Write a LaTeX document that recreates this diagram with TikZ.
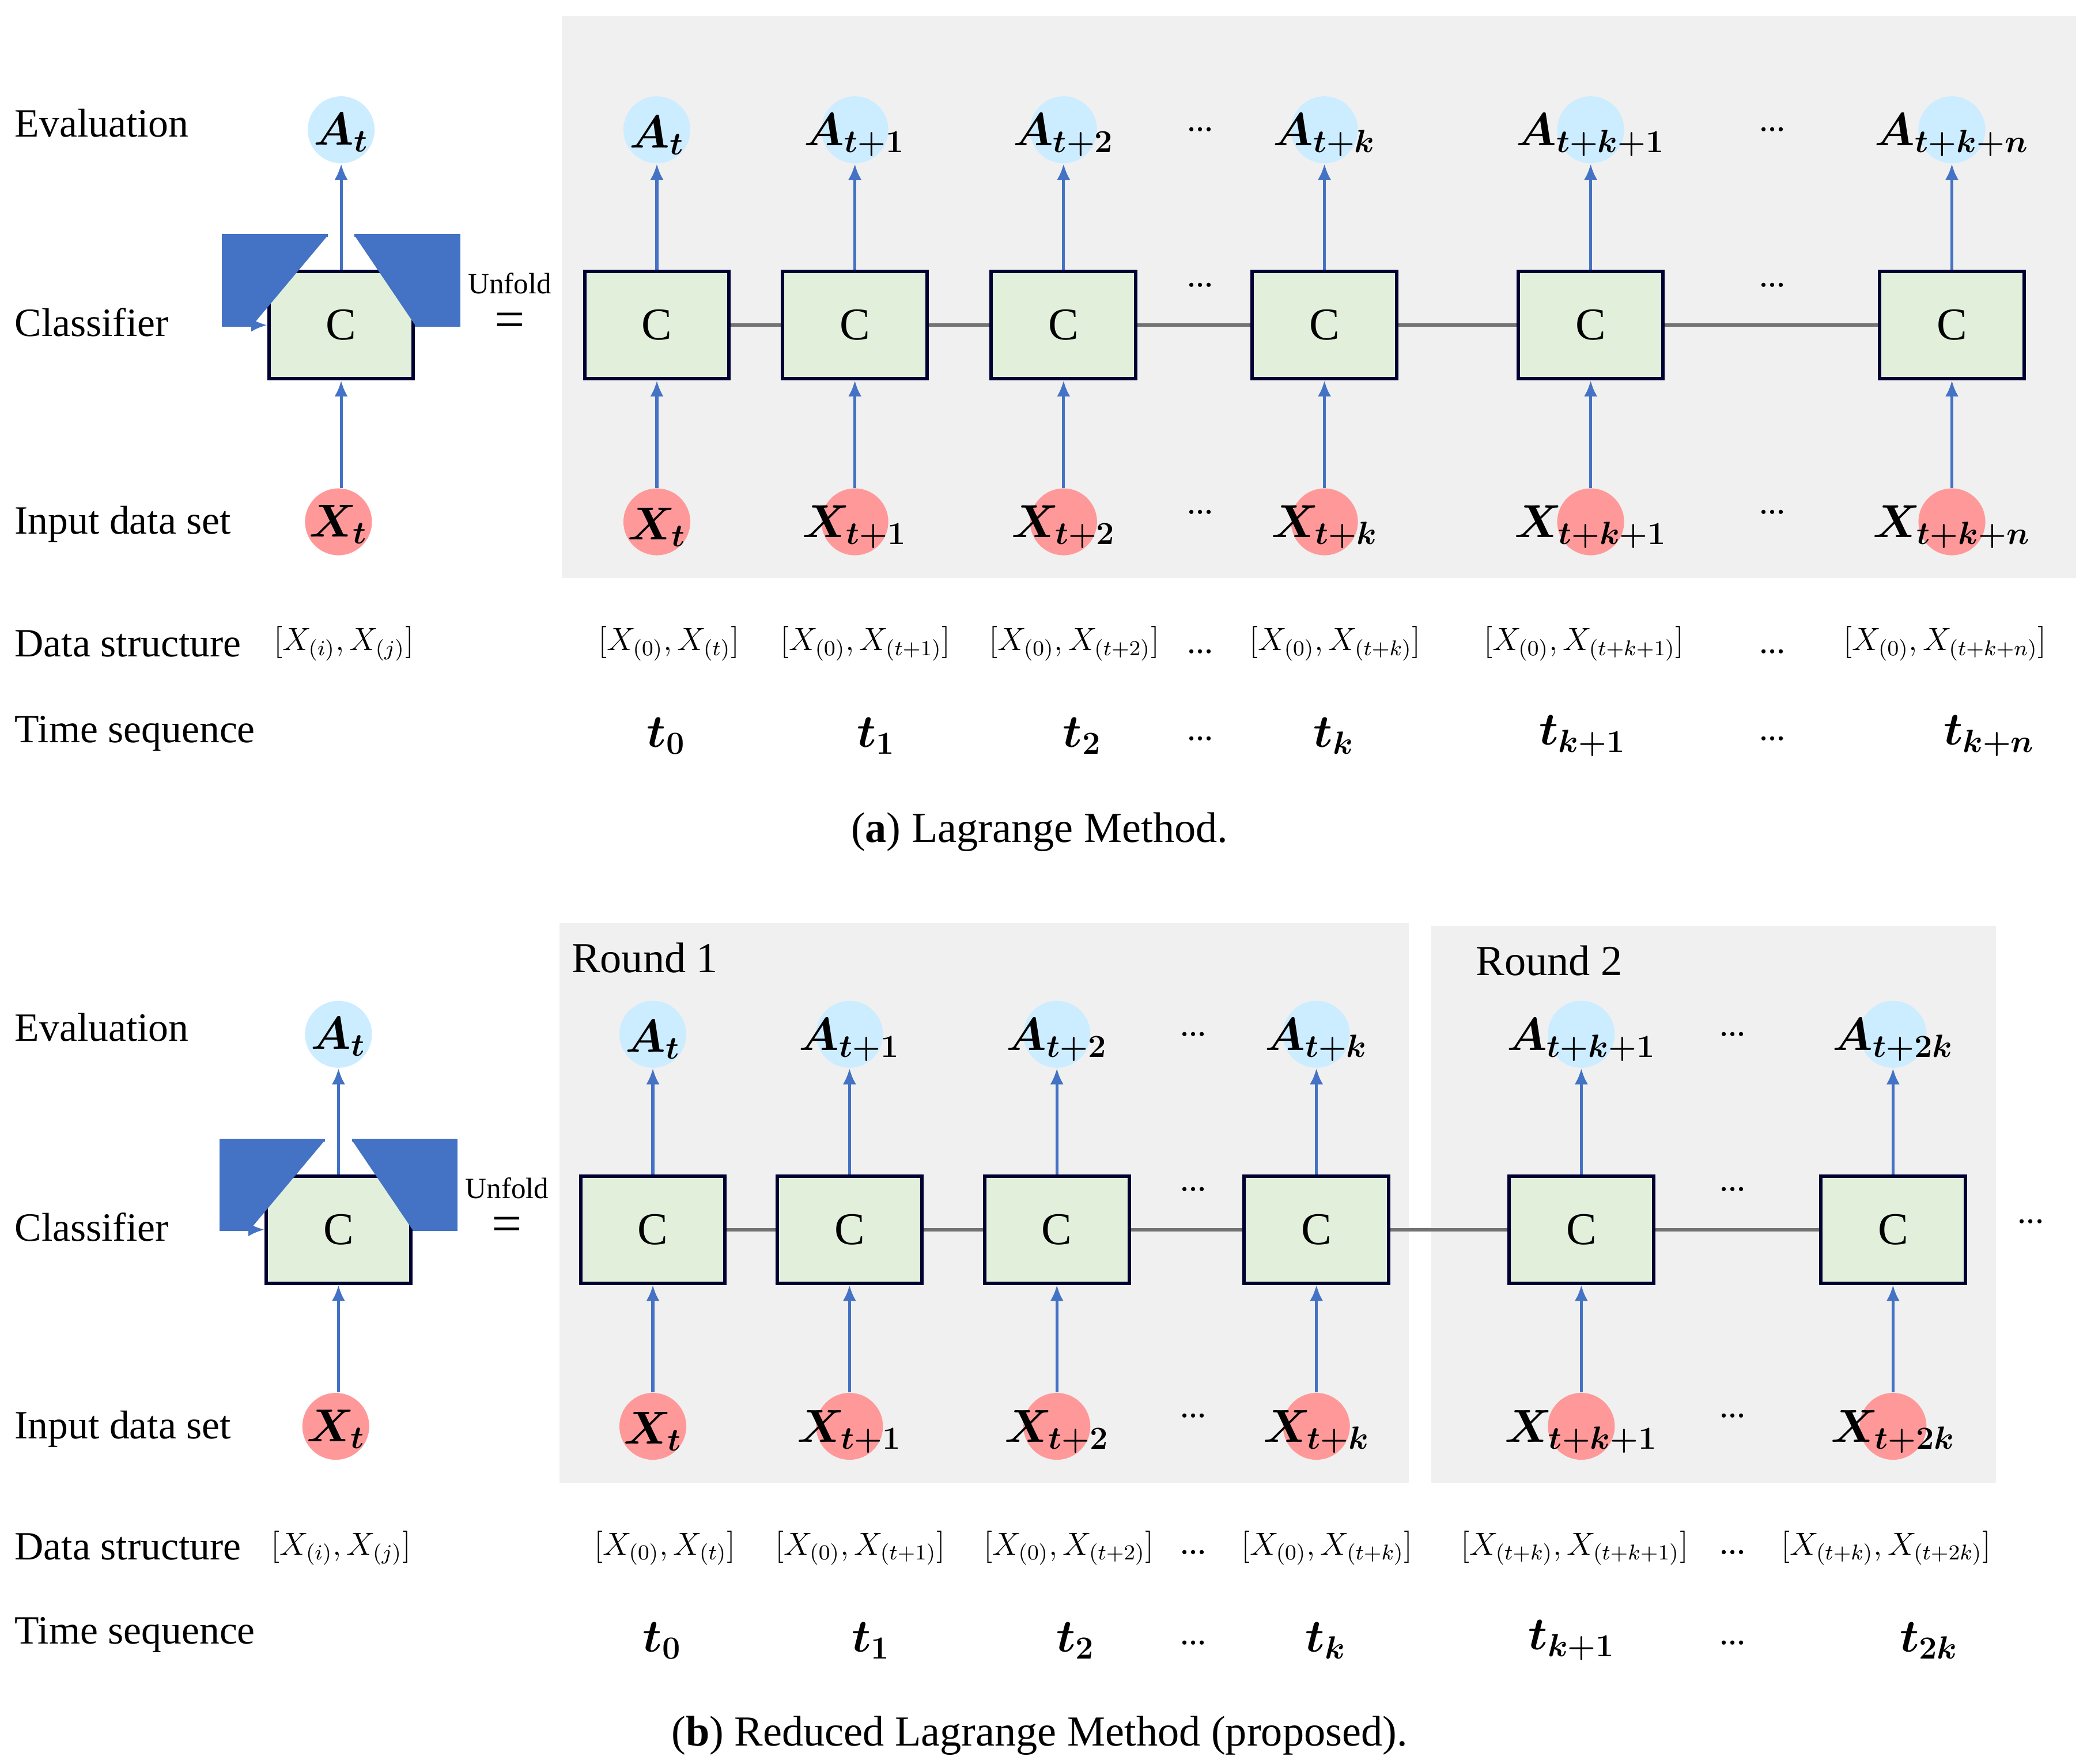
\documentclass[tikz,border=0pt]{standalone}
\usepackage{amsmath,bm}
\usepackage{fontspec}
\setmainfont{Liberation Serif}
\usetikzlibrary{shapes.geometric,arrows.meta}
\begin{document}
\begin{tikzpicture}[x=0.5pt,y=-0.5pt,
 lab/.style={anchor=west,font=\fontsize{15}{18}\selectfont},
 box/.style={draw=black!80!blue,line width=1.3pt,minimum width=54pt,minimum height=40pt,font=\fontsize{17}{19}\selectfont},
 av/.style={circle,minimum size=25pt,inner sep=0pt},
 xv/.style={circle,minimum size=25pt,inner sep=0pt},
 mt/.style={font=\fontsize{17}{21}\selectfont},
 ds/.style={font=\fontsize{12}{15}\selectfont},
 ar/.style={line width=1.1pt,-{Latex[length=6pt,width=5pt]}},
 ln/.style={draw=black!55,line width=1.3pt},
 dt/.style={font=\fontsize{13}{15}\selectfont}]
\useasboundingbox (0,0) rectangle (1560,1318);
\tikzset{box/.append style={fill={rgb,255:red,226;green,239;blue,218}},
 av/.append style={fill={rgb,255:red,204;green,236;blue,255}},
 xv/.append style={fill={rgb,255:red,255;green,153;blue,153}},
 ar/.append style={draw={rgb,255:red,68;green,114;blue,196},fill={rgb,255:red,68;green,114;blue,196}}}
% backgrounds
\fill[black!6] (420,12) rectangle (1552,432);
\fill[black!6] (418,690) rectangle (1053,1108);
\fill[black!6] (1070,692) rectangle (1492,1108);
% ---------- (a) ----------
\foreach \y/\t in {92/Evaluation,241/Classifier,392/Input data set,481/Data structure,548/Time sequence}
  \node[lab] at (4,\y) {\t};
\node[box] (ca) at (255,243) {C};
\node[av] (aa) at (255,97) {}; \node[mt] at (255,99) {$\bm{A_t}$};
\node[xv] (xa) at (253,390) {}; \node[mt] at (253,392) {$\bm{X_t}$};
\draw[ar] (xa.north -| ca) -- (ca); \draw[ar] (ca) -- (aa);
\draw[ar] (245,176) -| (167,243) -- (ca.west);
\draw[ar,-] (265,176) -| (343,243) -- (ca.east);
\node[font=\fontsize{11}{12}\selectfont] at (381,212) {Unfold};
\node[font=\fontsize{20}{22}\selectfont] at (381,243) {=};
\node[ds] at (257,481) {$[X_{(i)},X_{(j)}]$};
\foreach \i/\x/\s in {1/491/t,2/639/t+1,3/795/t+2,4/990/t+k,5/1189/t+k+1,6/1459/t+k+n}{
  \node[box] (c\i) at (\x,243) {C};
  \node[av] (a\i) at (\x,97) {}; \node[mt] at (\x,101) {$\bm{A_{\s}}$};
  \node[xv] (x\i) at (\x,390) {}; \node[mt] at (\x,394) {$\bm{X_{\s}}$};
  \draw[ar] (x\i) -- (c\i); \draw[ar] (c\i) -- (a\i);
}
\foreach \x/\d in {500/t,647/t+1,803/t+2,998/t+k,1184/t+k+1,1454/t+k+n}
  \node[ds] at (\x,481) {$[X_{(0)},X_{(\d)}]$};
\foreach \x/\d in {498/0,655/1,809/2,997/k,1183/k+1,1487/k+n}
  \node[mt] at (\x,550) {$\bm{t_{\d}}$};
\foreach \a/\b in {1/2,2/3,3/4,4/5,5/6} \draw[ln] (c\a) -- (c\b);
\foreach \x in {897,1325} \foreach \y in {97,213,383,487,552} \node[dt] at (\x,\y) {...};
\node[font=\fontsize{16}{18}\selectfont] at (777,622) {(\textbf{a}) Lagrange Method.};
% ---------- (b) ----------
\foreach \y/\t in {768/Evaluation,917/Classifier,1068/Input data set,1156/Data structure,1222/Time sequence}
  \node[lab] at (4,\y) {\t};
\node[box] (cb) at (253,919) {C};
\node[av] (ab) at (253,773) {}; \node[mt] at (253,775) {$\bm{A_t}$};
\node[xv] (xb) at (251,1066) {}; \node[mt] at (251,1068) {$\bm{X_t}$};
\draw[ar] (xb.north -| cb) -- (cb); \draw[ar] (cb) -- (ab);
\draw[ar] (243,852) -| (165,919) -- (cb.west);
\draw[ar,-] (263,852) -| (341,919) -- (cb.east);
\node[font=\fontsize{11}{12}\selectfont] at (379,888) {Unfold};
\node[font=\fontsize{20}{22}\selectfont] at (379,919) {=};
\node[ds] at (255,1157) {$[X_{(i)},X_{(j)}]$};
\node[font=\fontsize{16}{18}\selectfont] at (482,716) {Round 1};
\node[font=\fontsize{16}{18}\selectfont] at (1158,718) {Round 2};
\foreach \i/\x/\s in {1/488/t,2/635/t+1,3/790/t+2,4/984/t+k,5/1182/t+k+1,6/1415/t+2k}{
  \node[box] (d\i) at (\x,919) {C};
  \node[av] (b\i) at (\x,773) {}; \node[mt] at (\x,777) {$\bm{A_{\s}}$};
  \node[xv] (y\i) at (\x,1066) {}; \node[mt] at (\x,1070) {$\bm{X_{\s}}$};
  \draw[ar] (y\i) -- (d\i); \draw[ar] (d\i) -- (b\i);
}
\foreach \x/\d/\e in {497/0/t,643/0/t+1,799/0/t+2,992/0/t+k,1177/t+k/t+k+1,1410/t+k/t+2k}
  \node[ds] at (\x,1157) {$[X_{(\d)},X_{(\e)}]$};
\foreach \x/\d in {495/0,651/1,804/2,991/k,1175/k+1,1442/2k}
  \node[mt] at (\x,1226) {$\bm{t_{\d}}$};
\foreach \a/\b in {1/2,2/3,3/4,4/5,5/6} \draw[ln] (d\a) -- (d\b);
\foreach \x in {892,1295} \foreach \y in {773,889,1058,1160,1228} \node[dt] at (\x,\y) {...};
\node[dt] at (1518,913) {...};
\node[font=\fontsize{16}{18}\selectfont] at (777,1297) {(\textbf{b}) Reduced Lagrange Method (proposed).};
\end{tikzpicture}
\end{document}
